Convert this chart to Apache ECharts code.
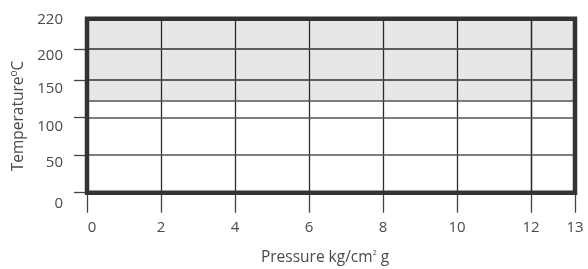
<!DOCTYPE html>
<html>
<head>
    <meta charset="utf-8">
    <title>ECharts</title>
    <script type="text/javascript" src="https://cdn.jsdelivr.net/npm/echarts@6/dist/echarts.min.js"></script>
    <style>
        html, body { margin: 0; padding: 0; background: #fff; }
    </style>
</head>
<body>
<div id="main" style="width: 588px;height:269px;"></div>

<script type="text/javascript">
    // axis ticks and labels
    var xTicks = [0, 2, 4, 6, 8, 10, 12, 13];
    var yTicks = [0, 50, 100, 150, 200, 220];
    var yTickMarks = [0, 50, 100, 150, 200];
    // grid lines and shaded band
    var xGridLines = [2, 4, 6, 8, 10, 12];
    var yGridLines = [50, 100, 122, 150, 200];
    var shadedBand = [122, 220];

    // the drawing uses uneven scales, so it is split into linear pieces
    var xSegments = [[0, 12], [12, 13]];
    var ySegments = [[0, 150], [150, 200], [200, 220]];
    var colPx = [87, 531, 575];          // left -> right edges
    var rowPx = [192.7, 80, 49, 18.7];   // bottom -> top edges
    // hand-placed label nudges in the original (px, down / right)
    var yLabelNudge = { 0: 5.5, 50: 4, 100: 4.7, 150: 4.3, 200: 3.3, 220: 0.3 };
    var xLabelNudge = { 0: 5 };

    var textColor = '#4a4a4a';
    var font = 'Open Sans';

    var chart = echarts.init(document.getElementById('main'));

    var grids = [], xAxes = [], yAxes = [], series = [];

    function inRange(list, lo, hi, skipLo) {
        return list.filter(function (v) {
            return v >= lo && v <= hi && !(skipLo && v === lo);
        });
    }

    var yRich = {}, xRich = {};
    yTicks.forEach(function (v) {
        yRich['y' + v] = { padding: [4 * (yLabelNudge[v] || 0), 0, 0, 0], fontSize: 15, fontFamily: font, color: textColor };
    });
    xTicks.forEach(function (v) {
        xRich['x' + v] = { padding: [0, 0, 0, 2 * (xLabelNudge[v] || 0)], fontSize: 15, fontFamily: font, color: textColor };
    });

    ySegments.forEach(function (ys, r) {
        xSegments.forEach(function (xs, c) {
            var idx = grids.length;
            grids.push({
                left: colPx[c],
                width: colPx[c + 1] - colPx[c],
                top: rowPx[r + 1],
                height: rowPx[r] - rowPx[r + 1],
                containLabel: false
            });
            var xt = inRange(xTicks, xs[0], xs[1], c > 0);
            xAxes.push({
                gridIndex: idx, type: 'value', min: xs[0], max: xs[1],
                axisLine: { show: false },
                splitLine: { show: false },
                axisTick: {
                    show: r === 0, length: 20, customValues: xt,
                    lineStyle: { color: '#444', width: 1.3 }
                },
                axisLabel: {
                    show: r === 0, customValues: xt, margin: 28,
                    formatter: function (v) { return '{x' + v + '|' + v + '}'; },
                    rich: xRich
                }
            });
            var yl = inRange(yTicks, ys[0], ys[1], r > 0);
            var ym = inRange(yTickMarks, ys[0], ys[1], r > 0);
            yAxes.push({
                gridIndex: idx, type: 'value', min: ys[0], max: ys[1],
                axisLine: { show: false },
                splitLine: { show: false },
                axisTick: {
                    show: c === 0 && ym.length > 0, length: 13, customValues: ym,
                    lineStyle: { color: '#444', width: 1.3 }
                },
                axisLabel: {
                    show: c === 0, customValues: yl, margin: 24,
                    formatter: function (v) { return '{y' + v + '|' + v + '}'; },
                    rich: yRich
                }
            });

            var lines = [];
            inRange(xGridLines, xs[0], xs[1]).forEach(function (v) {
                lines.push({ xAxis: v, lineStyle: { color: '#2b2b2b', width: 1.3, type: 'solid' } });
            });
            inRange(yGridLines, ys[0], ys[1]).forEach(function (v) {
                lines.push({ yAxis: v, lineStyle: { color: '#555', width: 1.5, type: 'solid' } });
            });
            var areas = [];
            var a = Math.max(ys[0], shadedBand[0]), b = Math.min(ys[1], shadedBand[1]);
            if (b > a) {
                areas.push([{ yAxis: a }, { yAxis: b }]);
            }
            series.push({
                type: 'line',
                xAxisIndex: idx,
                yAxisIndex: idx,
                data: [[xs[0], ys[0]]],
                showSymbol: false,
                symbol: 'none',
                silent: true,
                animation: false,
                markArea: {
                    silent: true,
                    itemStyle: { color: '#e6e7e8' },
                    data: areas
                },
                markLine: {
                    silent: true,
                    symbol: 'none',
                    animation: false,
                    label: { show: false },
                    data: lines
                }
            });
        });
    });

    var option = {
        animation: false,
        grid: grids,
        xAxis: xAxes,
        yAxis: yAxes,
        series: series,
        graphic: [
            {
                type: 'rect', z: 100, silent: true,
                shape: {
                    x: colPx[0], y: rowPx[3],
                    width: colPx[2] - colPx[0], height: rowPx[0] - rowPx[3]
                },
                style: { fill: 'none', stroke: '#333', lineWidth: 4.5 }
            },
            {
                type: 'text', z: 100, silent: true,
                x: 325, y: 258,
                style: {
                    text: 'Pressure kg/cm{sup|2} g',
                    fill: textColor, font: '15.5px "Open Sans"',
                    align: 'center', verticalAlign: 'middle',
                    rich: { sup: { fontSize: 7, fontFamily: font, fill: textColor, padding: [0, 0, 10, 0] } }
                }
            },
            {
                type: 'text', z: 100, silent: true,
                x: 19, y: 116, rotation: Math.PI / 2,
                style: {
                    text: 'Temperature{sup|o}C',
                    fill: textColor, font: '15.5px "Open Sans"',
                    align: 'center', verticalAlign: 'middle',
                    rich: { sup: { fontSize: 10, fontFamily: font, fill: textColor, padding: [0, 0, 9, 0] } }
                }
            }
        ]
    };
    chart.setOption(option);
</script>
</body>
</html>
